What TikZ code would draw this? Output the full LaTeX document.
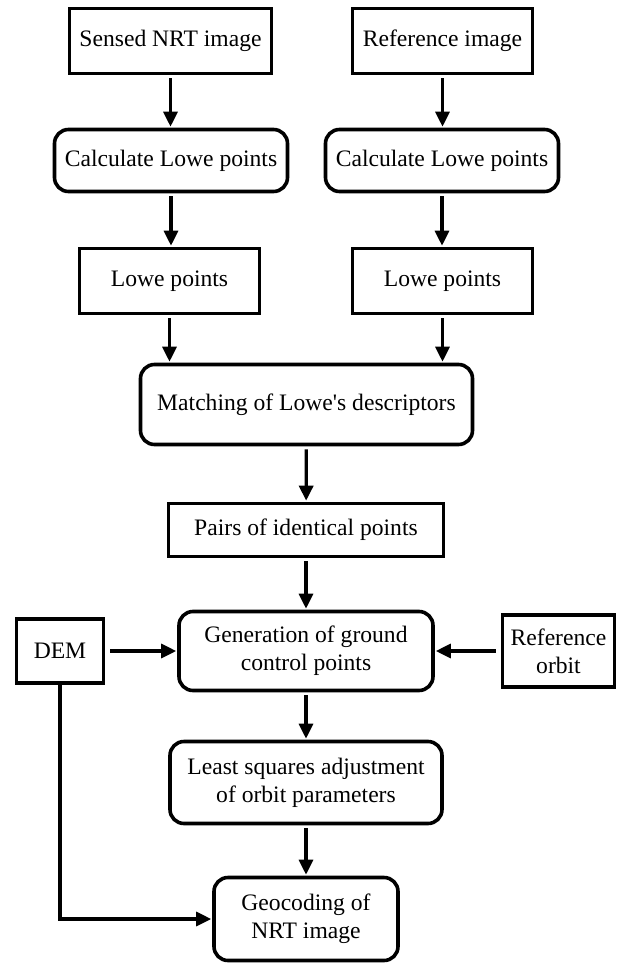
\documentclass[tikz,border=0pt]{standalone}
\usepackage{fontspec}
\setmainfont{Liberation Serif}
\usetikzlibrary{arrows.meta}

\begin{document}
\begin{tikzpicture}[x=0.5pt,y=-0.5pt,
	box/.style={draw,line width=1.8pt,inner sep=2pt,align=center,font=\fontsize{11.8}{14}\selectfont},
	rbox/.style={box,rounded corners=7pt},
	arr/.style={-{Triangle[length=7.5pt,width=7pt]},line width=1.6pt,shorten <=1.5pt,shorten >=0.5pt}]
	\useasboundingbox (0,0) rectangle (618,963);
	\node[box,minimum width=101pt,minimum height=32.5pt] (sensed) at (170.5,41) {Sensed NRT image};
	\node[box,minimum width=90pt,minimum height=32.5pt] (refimg) at (442.5,41) {Reference image};
	\node[rbox,minimum width=116.5pt,minimum height=31pt] (calcL) at (171,160.5) {Calculate Lowe points};
	\node[rbox,minimum width=116.5pt,minimum height=31pt] (calcR) at (442,160.5) {Calculate Lowe points};
	\node[box,minimum width=90pt,minimum height=32.5pt] (loweL) at (169.5,281) {Lowe points};
	\node[box,minimum width=90pt,minimum height=32.5pt] (loweR) at (442.5,281) {Lowe points};
	\node[rbox,minimum width=166pt,minimum height=40pt] (match) at (306.5,404.5) {Matching of Lowe\textquotesingle s descriptors};
	\node[box,minimum width=137.5pt,minimum height=26.5pt] (pairs) at (306,530) {Pairs of identical points};
	\node[rbox,minimum width=127pt,minimum height=39.5pt] (gen) at (306,651) {Generation of ground\\control points};
	\node[box,minimum width=43.5pt,minimum height=32pt] (dem) at (60,651) {DEM};
	\node[box,minimum width=56pt,minimum height=36pt] (orbit) at (558.5,651) {Reference\\orbit};
	\node[rbox,minimum width=136pt,minimum height=41pt] (lsq) at (306,782.5) {Least squares adjustment\\of orbit parameters};
	\node[rbox,minimum width=92pt,minimum height=41.5pt] (geo) at (306,919) {Geocoding of\\NRT image};
	\draw[arr] (sensed.south) -- (sensed.south |- calcL.north);
	\draw[arr] (refimg.south) -- (refimg.south |- calcR.north);
	\draw[arr] (calcL.south) -- (calcL.south |- loweL.north);
	\draw[arr] (calcR.south) -- (calcR.south |- loweR.north);
	\draw[arr] (loweL.south) -- (loweL.south |- match.north);
	\draw[arr] (loweR.south) -- (loweR.south |- match.north);
	\draw[arr] (match) -- (pairs);
	\draw[arr] (pairs) -- (gen);
	\draw[arr,shorten <=2.5pt] (dem) -- (gen);
	\draw[arr,shorten <=2.5pt] (orbit) -- (gen);
	\draw[arr] (gen) -- (lsq);
	\draw[arr] (lsq) -- (geo);
	\draw[arr,shorten <=0pt] (dem.south) |- (geo.west);
\end{tikzpicture}
\end{document}
